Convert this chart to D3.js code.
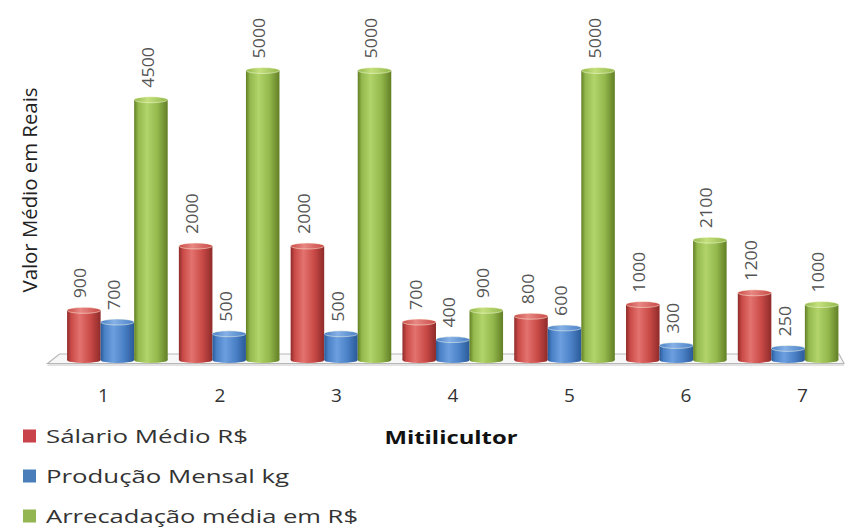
<!DOCTYPE html>
<html>
<head>
<meta charset="utf-8">
<script src="https://cdn.jsdelivr.net/npm/d3@7"></script>
<style>
  html, body { margin: 0; padding: 0; background: #fff; }
  svg { display: block; }
</style>
</head>
<body>
<svg id="chart" width="850" height="530"></svg>
<script>
// Mitilicultores: salário, produção e arrecadação
const categories = ["1", "2", "3", "4", "5", "6", "7"];
const salario = [900, 2000, 2000, 700, 800, 1000, 1200];
const producao = [700, 500, 500, 400, 600, 300, 250];
const arrecadacao = [4500, 5000, 5000, 900, 5000, 2100, 1000];
const seriesNames = ["Sálario Médio R$", "Produção Mensal kg", "Arrecadação média em R$"];
const yTitle = "Valor Médio em Reais";
const xTitle = "Mitilicultor";

const seriesValues = [salario, producao, arrecadacao];
const palette = [
  { dark: "#8e2b29", mid: "#c94a47", light: "#e3726e", cap: "#e88783", key: "#c8434a" },
  { dark: "#2a5a98", mid: "#4a80c6", light: "#6c9fdf", cap: "#86b1e6", key: "#4a7ebb" },
  { dark: "#627f25", mid: "#93b84c", light: "#b2d46a", cap: "#c4e07e", key: "#93b552" }
];

const svg = d3.select("#chart");
const defs = svg.append("defs");

palette.forEach((c, i) => {
  const g = defs.append("linearGradient").attr("id", "body" + i)
    .attr("x1", "0%").attr("x2", "100%").attr("y1", "0%").attr("y2", "0%");
  g.append("stop").attr("offset", "0%").attr("stop-color", c.dark);
  g.append("stop").attr("offset", "12%").attr("stop-color", c.mid);
  g.append("stop").attr("offset", "38%").attr("stop-color", c.light);
  g.append("stop").attr("offset", "70%").attr("stop-color", c.mid);
  g.append("stop").attr("offset", "100%").attr("stop-color", c.dark);
  const t = defs.append("linearGradient").attr("id", "cap" + i)
    .attr("x1", "0%").attr("x2", "100%").attr("y1", "0%").attr("y2", "0%");
  t.append("stop").attr("offset", "0%").attr("stop-color", c.mid);
  t.append("stop").attr("offset", "40%").attr("stop-color", c.cap);
  t.append("stop").attr("offset", "100%").attr("stop-color", c.mid);
});

const x = d3.scaleBand().domain(categories).range([61.5, 844])
  .paddingInner(0.1).paddingOuter(0.05);
const xs = d3.scaleBand().domain(d3.range(seriesValues.length)).range([0, x.bandwidth()]);
const y = d3.scaleLinear().domain([0, 5000]).range([360, 67.5]);
// category labels sit on the front edge of the floor, which is drawn in perspective
const xLabel = d3.scalePoint().domain(categories).range([103, 802]);

// floor
const floorBack = y(0) - 6, floorFront = y(0) + 3.5;
const x0 = x.range()[0], x1 = x.range()[1];
svg.append("path")
  .attr("d", `M${x0 - 14},${floorFront} L${x0 - 2},${floorBack} L${x1 - 5},${floorBack} L${x1},${floorFront} Z`)
  .attr("fill", "#f7f7f7").attr("stroke", "#b8b8b8").attr("stroke-width", 1.2);
svg.append("line")
  .attr("x1", x0 - 14).attr("x2", x1).attr("y1", floorFront + 1.5).attr("y2", floorFront + 1.5)
  .attr("stroke", "#e2e2e2").attr("stroke-width", 2);

// bars
const ry = 3;
const rows = [];
categories.forEach((cat, ci) => {
  seriesValues.forEach((vals, si) => rows.push({ cat, si, v: vals[ci] }));
});

const bars = svg.append("g").selectAll("g").data(rows).join("g");
bars.append("rect")
  .attr("x", d => x(d.cat) + xs(d.si))
  .attr("width", xs.bandwidth())
  .attr("y", d => y(d.v) + ry)
  .attr("height", d => y(0) - y(d.v) - ry)
  .attr("fill", d => `url(#body${d.si})`);
bars.append("ellipse")
  .attr("cx", d => x(d.cat) + xs(d.si) + xs.bandwidth() / 2)
  .attr("cy", d => y(0))
  .attr("rx", xs.bandwidth() / 2)
  .attr("ry", ry)
  .attr("fill", d => `url(#body${d.si})`);
bars.append("ellipse")
  .attr("cx", d => x(d.cat) + xs(d.si) + xs.bandwidth() / 2)
  .attr("cy", d => y(d.v) + ry)
  .attr("rx", xs.bandwidth() / 2)
  .attr("ry", ry)
  .attr("fill", d => `url(#cap${d.si})`)
  .attr("stroke", "#ffffe8").attr("stroke-opacity", 0.6).attr("stroke-width", 0.8);

// value labels, rotated
bars.append("text")
  .attr("transform", d => `translate(${x(d.cat) + xs(d.si) + xs.bandwidth() / 2 - 3},${y(d.v) - 9}) rotate(-90)`)
  .attr("dy", "0.35em")
  .attr("text-anchor", "start")
  .attr("font-family", "'Open Sans', sans-serif")
  .attr("font-size", 16)
  .attr("fill", "#555")
  .attr("textLength", d => String(d.v).length * 10.2)
  .attr("lengthAdjust", "spacingAndGlyphs")
  .text(d => d.v);

// category axis
const axis = svg.append("g").attr("transform", "translate(0,388)")
  .call(d3.axisBottom(xLabel).tickSize(0).tickPadding(0));
axis.select(".domain").remove();
axis.selectAll("text")
  .attr("font-family", "'Open Sans', sans-serif")
  .attr("font-size", 19)
  .attr("fill", "#333")
  .attr("dy", "0.71em");

// axis titles
svg.append("text")
  .attr("transform", "translate(30,190) rotate(-90)")
  .attr("text-anchor", "middle")
  .attr("dy", "0.35em")
  .attr("font-family", "'Open Sans', sans-serif")
  .attr("font-size", 20)
  .attr("fill", "#222")
  .attr("textLength", 205).attr("lengthAdjust", "spacingAndGlyphs")
  .text(yTitle);

svg.append("text")
  .attr("x", 451).attr("y", 444)
  .attr("text-anchor", "middle")
  .attr("font-family", "'Open Sans', sans-serif")
  .attr("font-weight", "bold")
  .attr("font-size", 18)
  .attr("fill", "#111")
  .attr("textLength", 133).attr("lengthAdjust", "spacingAndGlyphs")
  .text(xTitle);

// legend
const legendY = d3.scalePoint().domain(d3.range(seriesNames.length)).range([436, 516]);
const legendWidths = [202, 243, 312];
const legend = svg.append("g").selectAll("g").data(seriesNames).join("g")
  .attr("transform", (d, i) => `translate(23,${legendY(i)})`);
legend.append("rect")
  .attr("x", 0).attr("y", -6.5).attr("width", 13).attr("height", 13)
  .attr("fill", (d, i) => palette[i].key);
legend.append("text")
  .attr("x", 23).attr("y", 0).attr("dy", "0.36em")
  .attr("font-family", "'Open Sans', sans-serif")
  .attr("font-size", 19)
  .attr("fill", "#333")
  .attr("textLength", (d, i) => legendWidths[i]).attr("lengthAdjust", "spacingAndGlyphs")
  .text(d => d);
</script>
</body>
</html>
